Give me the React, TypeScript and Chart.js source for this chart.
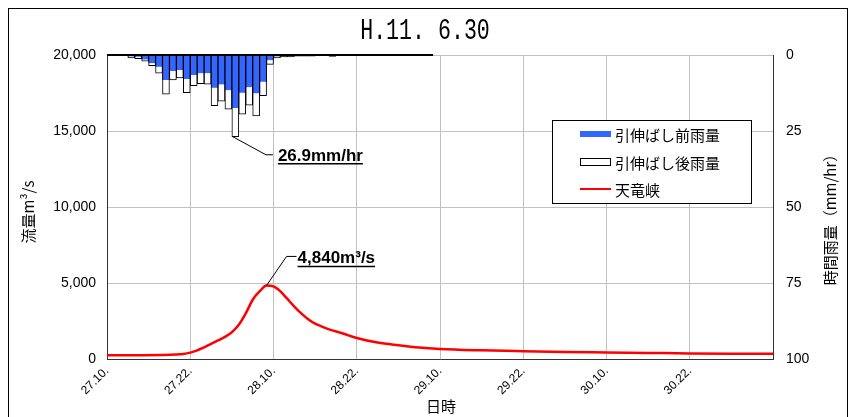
import React, { useEffect, useRef } from 'react';
import { Chart, registerables } from 'chart.js';

Chart.register(...registerables);

const titleText = 'H.11. 6.30';
const xTickLabels = ['27.10.', '27.22.', '28.10.', '28.22.', '29.10.', '29.22.', '30.10.', '30.22.', ''];
const xAxisTitle = '日時';
const yAxisTitle = '流量m³/s';
const y2AxisTitle = '時間雨量（mm/hr）';
const seriesNames = ['引伸ばし前雨量', '引伸ばし後雨量', '天竜峡'];

// hourly rainfall (mm/hr) from 27.10
const rainBefore = [0, 0, 0, 0.5, 0.6, 1.5, 2.7, 3.9, 8.2, 5.3, 4.9, 7.9, 6.6, 6.0, 6.0, 10.8, 9.7, 11.6, 17.4, 12.4, 10.6, 12.6, 8.8, 1.7, 0.5, 0.3, 0.3, 0.2, 0.2, 0.2, 0, 0, 0.3, 0, 0, 0, 0, 0, 0, 0, 0, 0, 0, 0, 0, 0, 0];
const rainAfter = [0, 0, 0, 1.0, 1.2, 2.0, 3.5, 6.0, 12.9, 8.2, 7.5, 12.4, 10.1, 9.4, 9.6, 16.7, 15.2, 17.8, 26.9, 19.5, 16.5, 20.0, 13.4, 3.1, 1.0, 0.6, 0.6, 0.4, 0.4, 0.4, 0.1, 0.1, 0.5, 0, 0, 0, 0, 0, 0, 0, 0, 0, 0, 0, 0, 0, 0];

// discharge (m3/s), hours from 27.10
const flowHours = [0, 4, 8, 10, 11, 12, 13, 14, 15, 16, 17, 18, 19, 20, 21, 22, 23, 24, 25, 26, 27, 28, 29, 30, 31, 32, 34, 36, 39, 42, 45, 48, 54, 60, 66, 72, 78, 84, 90, 96];
const flowValues = [250, 250, 260, 290, 330, 420, 570, 770, 990, 1220, 1460, 1760, 2250, 3000, 3900, 4450, 4840, 4780, 4450, 3950, 3450, 3000, 2620, 2330, 2130, 1950, 1680, 1380, 1080, 900, 750, 660, 570, 510, 460, 430, 400, 370, 350, 340];

const rainPeakLabel = '26.9mm/hr';
const flowPeakLabel = '4,840m³/s';

const CJK = '"Noto Sans CJK JP", sans-serif';
const LAT = '"Liberation Sans", Arial, sans-serif';

const decorPlugin = {
  id: 'decor',
  afterDatasetsDraw(chart: any) {
    const { ctx, chartArea, scales } = chart;
    const x = scales.x;
    ctx.save();
    // top outline over rainfall bars
    ctx.strokeStyle = '#000';
    ctx.lineWidth = 2;
    ctx.beginPath();
    ctx.moveTo(x.getPixelForValue(0), chartArea.top);
    ctx.lineTo(x.getPixelForValue(rainAfter.length), chartArea.top);
    ctx.stroke();
    ctx.restore();
  },
  afterDraw(chart: any) {
    const { ctx, chartArea, scales } = chart;
    const x = scales.x, y = scales.y, y2 = scales.y2;
    ctx.save();
    ctx.fillStyle = '#000';

    // title
    ctx.save();
    ctx.translate(416, 22);
    ctx.scale(0.72, 1);
    ctx.font = '30px "Liberation Mono", monospace';
    ctx.textAlign = 'center';
    ctx.textBaseline = 'middle';
    ctx.fillText(titleText, 0, 0);
    ctx.restore();

    // axis titles
    ctx.save();
    ctx.translate(19, 203);
    ctx.rotate(-Math.PI / 2);
    ctx.font = '15px ' + CJK;
    ctx.textAlign = 'center';
    ctx.textBaseline = 'middle';
    ctx.fillText(yAxisTitle, 0, 0);
    ctx.restore();

    ctx.save();
    ctx.translate(821, 207);
    ctx.rotate(-Math.PI / 2);
    ctx.font = '15px ' + CJK;
    ctx.textAlign = 'center';
    ctx.textBaseline = 'middle';
    ctx.fillText(y2AxisTitle, 0, 0);
    ctx.restore();

    ctx.font = '15px ' + CJK;
    ctx.textAlign = 'center';
    ctx.textBaseline = 'middle';
    ctx.fillText(xAxisTitle, (chartArea.left + chartArea.right) / 2 + 1, 397);

    // legend
    const lx = chartArea.right - 221;
    const ly = chartArea.top + 65;
    ctx.fillStyle = '#fff';
    ctx.fillRect(lx, ly, 199, 83);
    ctx.strokeStyle = '#000';
    ctx.lineWidth = 1;
    ctx.strokeRect(lx + 0.5, ly + 0.5, 199, 83);
    const rows = [ly + 14, ly + 42, ly + 69];
    const sx = lx + 28;
    ctx.fillStyle = '#3366ff';
    ctx.fillRect(sx, rows[0] - 3, 31, 6);
    ctx.fillStyle = '#fff';
    ctx.fillRect(sx, rows[1] - 3, 31, 6);
    ctx.strokeRect(sx + 0.5, rows[1] - 3.5, 30, 7);
    ctx.strokeStyle = '#ff0000';
    ctx.lineWidth = 2;
    ctx.beginPath();
    ctx.moveTo(sx, rows[2]);
    ctx.lineTo(sx + 31, rows[2]);
    ctx.stroke();
    ctx.fillStyle = '#000';
    ctx.font = '15px ' + CJK;
    ctx.textAlign = 'left';
    ctx.textBaseline = 'middle';
    seriesNames.forEach((n, i) => ctx.fillText(n, sx + 35, rows[i] + 1));

    // rainfall peak annotation
    let ri = 0;
    rainAfter.forEach((v, i) => { if (v > rainAfter[ri]) ri = i; });
    const rx = x.getPixelForValue(ri) + 1;
    const ry = y2.getPixelForValue(rainAfter[ri]);
    ctx.strokeStyle = '#000';
    ctx.lineWidth = 1;
    ctx.beginPath();
    ctx.moveTo(rx, ry);
    ctx.lineTo(rx + 33, ry + 18);
    ctx.lineTo(rx + 40, ry + 18);
    ctx.stroke();
    ctx.font = 'bold 17px ' + LAT;
    ctx.textAlign = 'left';
    ctx.textBaseline = 'alphabetic';
    ctx.fillText(rainPeakLabel, rx + 45, ry + 24);
    let w = ctx.measureText(rainPeakLabel).width;
    ctx.lineWidth = 1.5;
    ctx.beginPath();
    ctx.moveTo(rx + 45, ry + 27);
    ctx.lineTo(rx + 45 + w, ry + 27);
    ctx.stroke();

    // flow peak annotation
    let fi = 0;
    flowValues.forEach((v, i) => { if (v > flowValues[fi]) fi = i; });
    const fx = x.getPixelForValue(flowHours[fi]);
    const fy = y.getPixelForValue(flowValues[fi]);
    ctx.lineWidth = 1;
    ctx.beginPath();
    ctx.moveTo(fx, fy);
    ctx.lineTo(fx + 20, fy - 29);
    ctx.lineTo(fx + 30, fy - 29);
    ctx.stroke();
    ctx.font = 'bold 17px ' + LAT;
    ctx.fillText(flowPeakLabel, fx + 31, fy - 22);
    w = ctx.measureText(flowPeakLabel).width;
    ctx.lineWidth = 1.5;
    ctx.beginPath();
    ctx.moveTo(fx + 31, fy - 19);
    ctx.lineTo(fx + 31 + w, fy - 19);
    ctx.stroke();

    ctx.restore();
  },
};

export default function App() {
  const ref = useRef<HTMLCanvasElement>(null);
  useEffect(() => {
    const chart = new Chart(ref.current as HTMLCanvasElement, {
      type: 'bar',
      data: {
        datasets: [
          {
            type: 'bar',
            label: seriesNames[0],
            data: rainBefore.map((v, i) => ({ x: i + 0.5, y: v })),
            xAxisID: 'x',
            yAxisID: 'y2',
            backgroundColor: '#3366ff',
            borderColor: '#000',
            borderWidth: { left: 1, right: 1, top: 0, bottom: 0 },
            borderSkipped: false,
            grouped: false,
            barPercentage: 1,
            categoryPercentage: 1,
          } as any,
          {
            type: 'bar',
            label: seriesNames[1],
            data: rainAfter.map((v, i) => ({ x: i + 0.5, y: v })),
            xAxisID: 'x',
            yAxisID: 'y2',
            backgroundColor: '#ffffff',
            borderColor: '#000',
            borderWidth: 1,
            borderSkipped: 'start',
            grouped: false,
            barPercentage: 1,
            categoryPercentage: 1,
          } as any,
          {
            type: 'line',
            label: seriesNames[2],
            data: flowHours.map((h, i) => ({ x: h, y: flowValues[i] })),
            xAxisID: 'x',
            yAxisID: 'y',
            borderColor: '#ff0000',
            borderWidth: 2.5,
            pointRadius: 0,
            cubicInterpolationMode: 'monotone',
            fill: false,
          } as any,
        ],
      },
      options: {
        responsive: false,
        animation: false,
        layout: { padding: { top: 46, left: 0, right: 0, bottom: 0 } },
        plugins: {
          legend: { display: false },
          tooltip: { enabled: false },
          title: { display: false },
        },
        scales: {
          x: {
            type: 'linear',
            min: 0,
            max: 96,
            offset: false,
            afterFit: (s: any) => { s.height = 62; },
            ticks: {
              stepSize: 12,
              autoSkip: false,
              minRotation: 45,
              maxRotation: 45,
              padding: 5,
              color: '#000',
              font: { family: LAT, size: 12 },
              callback: (v: any) => xTickLabels[Math.round(Number(v) / 12)] ?? '',
            },
            grid: { color: '#c0c0c0', drawTicks: false, offset: false },
            border: { color: '#333' },
          },
          y: {
            type: 'linear',
            position: 'left',
            min: 0,
            max: 20000,
            afterFit: (s: any) => { s.width = 98; },
            ticks: {
              stepSize: 5000,
              padding: 11,
              color: '#000',
              font: { family: LAT, size: 14 },
              callback: (v: any) => Number(v).toLocaleString('en-US'),
            },
            grid: { color: '#c0c0c0', drawTicks: false },
            border: { color: '#333' },
          },
          y2: {
            type: 'linear',
            position: 'right',
            min: 0,
            max: 100,
            reverse: true,
            afterFit: (s: any) => { s.width = 74; },
            ticks: {
              stepSize: 25,
              padding: 13,
              color: '#000',
              font: { family: LAT, size: 14 },
            },
            grid: { display: false, drawTicks: false },
            border: { color: '#333' },
          },
        },
      } as any,
      plugins: [decorPlugin],
    });
    return () => chart.destroy();
  }, []);
  return (
    <div style={{ width: 840, height: 414, border: '1px solid #000', boxSizing: 'border-box' }}>
      <canvas ref={ref} width={838} height={412} style={{ display: 'block' }} />
    </div>
  );
}
